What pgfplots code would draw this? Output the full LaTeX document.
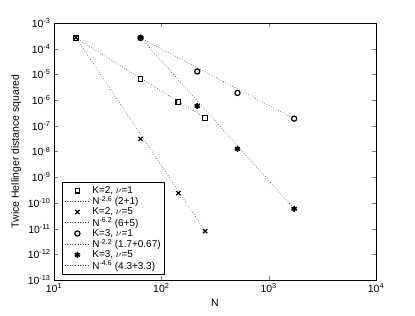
\documentclass[border=0pt]{standalone}
\usepackage{pgfplots}
\pgfplotsset{compat=1.18}
\usepackage{fontspec}
\setmainfont{Liberation Sans}
\pgfplotsset{
  longline/.style={legend image code/.code={\draw[##1] (0cm,0cm) -- (0.9cm,0cm);}},
  markleg/.style={legend image code/.code={\draw[##1] plot coordinates {(0.45cm,0cm)};}},
}
\begin{document}
\begin{tikzpicture}
\path[use as bounding box] (-54bp,-36bp) rectangle (361bp,280bp);
\begin{axis}[
  at={(0,0)}, anchor=south west,
  scale only axis, width=322bp, height=257bp,
  xmode=log, ymode=log, log basis x=10, log basis y=10,
  xmin=10, xmax=10000, ymin=1e-13, ymax=1e-3,
  xtick={10,100,1000,10000},
  ytick={1e-13,1e-12,1e-11,1e-10,1e-9,1e-8,1e-7,1e-6,1e-5,1e-4,1e-3},
  xticklabel={\pgfmathparse{int(round(\tick))}10\textsuperscript{\pgfmathresult}},
  yticklabel={\pgfmathparse{int(round(\tick))}10\textsuperscript{\pgfmathresult}},
  tick align=inside, axis line style={semithick},
  tick label style={font=\fontsize{10.5}{12}\selectfont},
  label style={font=\fontsize{10.5}{12}\selectfont},
  xlabel={N}, ylabel={Twice Hellinger distance squared},
  legend style={at={(0.025,0.02)}, anchor=south west, draw=black, semithick,
    font=\fontsize{10}{11}\selectfont, row sep=-2.5pt, inner sep=2pt},
  legend cell align=left,
]
\addplot[only marks, mark=square, mark size=2.3pt, very thick, black, markleg] coordinates {(16,2.6e-4) (64,6.6e-6) (144,8.5e-7) (256,2.0e-7)};
\addlegendentry{K=2, $\nu$=1}
\addplot[dotted, darkgray, semithick, longline] coordinates {(16,2.6e-4) (256,2.0e-7)};
\addlegendentry{N\textsuperscript{-2.6} (2+1)}
\addplot[only marks, mark=x, mark size=3pt, very thick, black, markleg] coordinates {(16,2.7e-4) (64,3.1e-8) (144,2.4e-10) (256,8e-12)};
\addlegendentry{K=2, $\nu$=5}
\addplot[dotted, darkgray, semithick, longline] coordinates {(16,2.7e-4) (256,8e-12)};
\addlegendentry{N\textsuperscript{-6.2} (6+5)}
\addplot[only marks, mark=o, mark size=2.6pt, very thick, black, markleg] coordinates {(64,2.6e-4) (216,1.3e-5) (512,1.9e-6) (1728,1.9e-7)};
\addlegendentry{K=3, $\nu$=1}
\addplot[dotted, darkgray, semithick, longline] coordinates {(64,2.6e-4) (1728,1.9e-7)};
\addlegendentry{N\textsuperscript{-2.2} (1.7+0.67)}
\addplot[only marks, mark=asterisk, mark size=3pt, ultra thick, black, markleg] coordinates {(64,2.7e-4) (216,5.9e-7) (512,1.26e-8) (1728,5.9e-11)};
\addlegendentry{K=3, $\nu$=5}
\addplot[dotted, darkgray, semithick, longline] coordinates {(64,2.7e-4) (1728,5.9e-11)};
\addlegendentry{N\textsuperscript{-4.6} (4.3+3.3)}
\end{axis}
\end{tikzpicture}
\end{document}
